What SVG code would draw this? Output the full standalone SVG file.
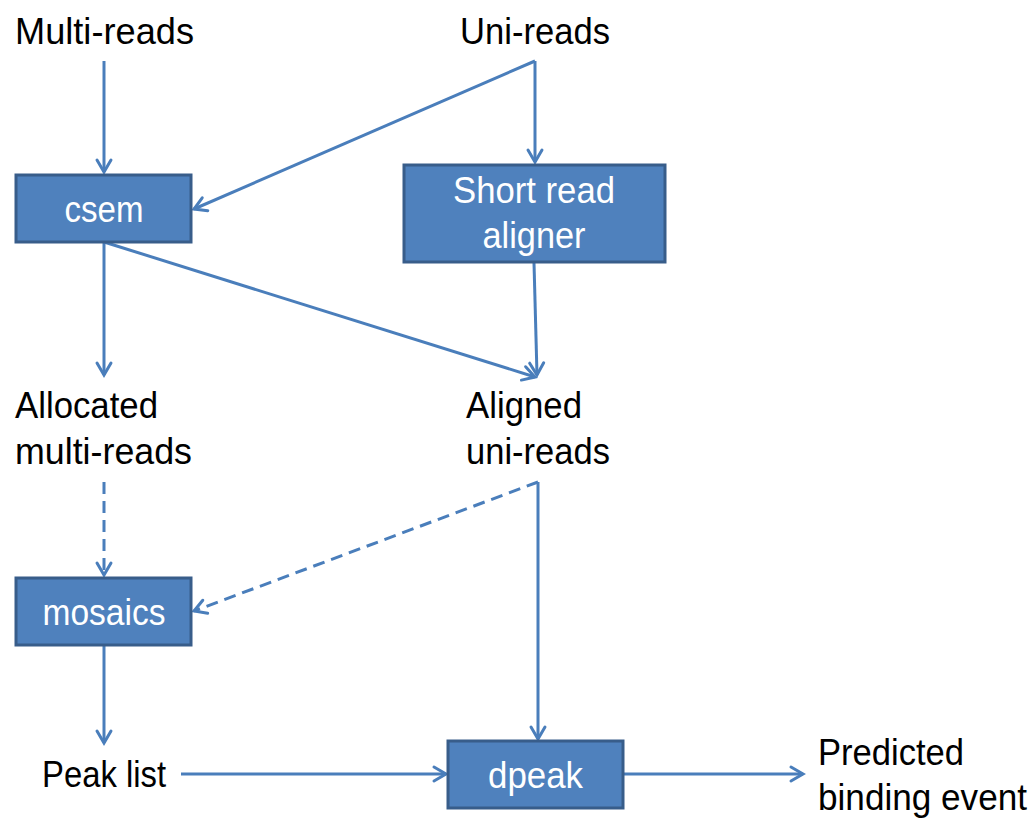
<svg xmlns="http://www.w3.org/2000/svg" width="1034" height="819" viewBox="0 0 1034 819">
<style>
text{font-family:"Liberation Sans Narrow","Liberation Sans",Arial,sans-serif;font-size:36px}
.lbl{fill:#000}
.in{fill:#fff;text-anchor:middle}
.box{fill:#4F81BD;stroke:#385D8A;stroke-width:3}
.c{stroke:#4A7EBB;stroke-width:3;fill:none;marker-end:url(#ah)}
.d{stroke-dasharray:12 7}
</style>
<defs>
<marker id="ah" markerUnits="userSpaceOnUse" markerWidth="20" markerHeight="20" viewBox="-14 -10 18 20" refX="0" refY="0" orient="auto">
<path d="M-12,-7 L0,0 L-12,7" fill="none" stroke="#4A7EBB" stroke-width="3" stroke-linecap="round" stroke-linejoin="miter"/>
</marker>
</defs>
<rect width="1034" height="819" fill="#fff"/>
<g id="connectors">
<line class="c" x1="104" y1="61" x2="104" y2="172"/>
<line class="c" x1="535" y1="61" x2="535" y2="162"/>
<line class="c" x1="535" y1="61" x2="194" y2="209"/>
<line class="c" x1="104" y1="242" x2="104" y2="375"/>
<line class="c" x1="104" y1="242" x2="535" y2="377"/>
<line class="c" x1="534" y1="263" x2="537" y2="375"/>
<line class="c d" x1="104" y1="482" x2="104" y2="575"/>
<line class="c d" x1="538" y1="482" x2="194" y2="611"/>
<line class="c" x1="538" y1="482" x2="538" y2="739"/>
<line class="c" x1="104" y1="646" x2="104" y2="743"/>
<line class="c" x1="181" y1="774" x2="446" y2="774"/>
<line class="c" x1="624" y1="774" x2="803" y2="774"/>
</g>
<g id="multi-reads"><text class="lbl" x="15" y="44" textLength="179" lengthAdjust="spacingAndGlyphs">Multi-reads</text></g>
<g id="uni-reads"><text class="lbl" x="460" y="44" textLength="150" lengthAdjust="spacingAndGlyphs">Uni-reads</text></g>
<g id="csem"><rect class="box" x="16" y="175" width="175" height="67"/><text class="in" x="104" y="222" textLength="79" lengthAdjust="spacingAndGlyphs">csem</text></g>
<g id="short-read-aligner"><rect class="box" x="404" y="165" width="261" height="97"/><text class="in" x="534" y="203" textLength="162" lengthAdjust="spacingAndGlyphs">Short read</text><text class="in" x="534" y="248" textLength="103" lengthAdjust="spacingAndGlyphs">aligner</text></g>
<g id="allocated-multi-reads"><text class="lbl" x="15" y="418" textLength="143" lengthAdjust="spacingAndGlyphs">Allocated</text><text class="lbl" x="15" y="464" textLength="177" lengthAdjust="spacingAndGlyphs">multi-reads</text></g>
<g id="aligned-uni-reads"><text class="lbl" x="466" y="418" textLength="116" lengthAdjust="spacingAndGlyphs">Aligned</text><text class="lbl" x="466" y="464" textLength="144" lengthAdjust="spacingAndGlyphs">uni-reads</text></g>
<g id="mosaics"><rect class="box" x="16" y="578" width="175" height="67"/><text class="in" x="104" y="625" textLength="123" lengthAdjust="spacingAndGlyphs">mosaics</text></g>
<g id="peak-list"><text class="lbl" x="42" y="787" textLength="124" lengthAdjust="spacingAndGlyphs">Peak list</text></g>
<g id="dpeak"><rect class="box" x="448" y="741" width="175" height="67"/><text class="in" x="535.5" y="788" textLength="95" lengthAdjust="spacingAndGlyphs">dpeak</text></g>
<g id="predicted-binding-event"><text class="lbl" x="818" y="765" textLength="146" lengthAdjust="spacingAndGlyphs">Predicted</text><text class="lbl" x="818" y="810" textLength="209" lengthAdjust="spacingAndGlyphs">binding event</text></g>
</svg>
